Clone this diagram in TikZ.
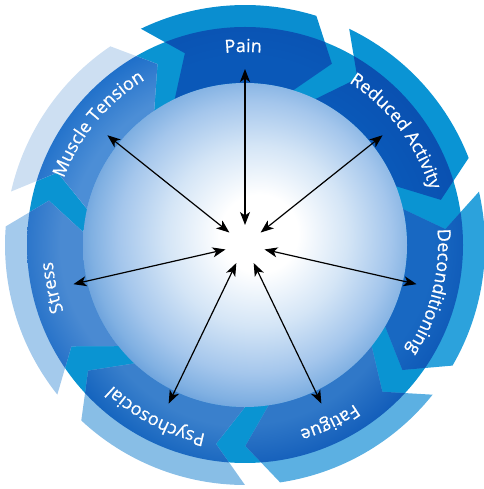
\documentclass[tikz,border=0pt]{standalone}
\usepackage{fontspec}
\newfontfamily\labfam{Open Sans}[FakeBold=0.6]
\usetikzlibrary{decorations.text,arrows.meta}
\definecolor{basecol}{HTML}{0A94D2}
\definecolor{flapPain}{HTML}{0A8ED0}
\definecolor{flapRA}{HTML}{0A94D4}
\definecolor{flapDec}{HTML}{2CA2DC}
\definecolor{flapFat}{HTML}{5CB0E2}
\definecolor{flapPsy}{HTML}{88BEE6}
\definecolor{flapStr}{HTML}{A4CAEC}
\definecolor{flapMT}{HTML}{CDDFF2}
\definecolor{inPain}{HTML}{0A58B8}\definecolor{outPain}{HTML}{0A50B0}
\definecolor{inRA}{HTML}{0A58B8}\definecolor{outRA}{HTML}{0A50B0}
\definecolor{inDec}{HTML}{1868C2}\definecolor{outDec}{HTML}{0A52B2}
\definecolor{inFat}{HTML}{3078C8}\definecolor{outFat}{HTML}{0A56B6}
\definecolor{inPsy}{HTML}{3A80CC}\definecolor{outPsy}{HTML}{0A5CBA}
\definecolor{inStr}{HTML}{4A8AD2}\definecolor{outStr}{HTML}{1566C4}
\definecolor{inMT}{HTML}{4C8ED6}\definecolor{outMT}{HTML}{1A6CC8}
\definecolor{dA}{HTML}{D4E5F6}
\definecolor{dB}{HTML}{A4C6EC}
\definecolor{dC}{HTML}{80B0E2}
\definecolor{dD}{HTML}{5E98D8}
\colorlet{ringin}{inPain}\colorlet{ringout}{outPain}
\pgfdeclareradialshading[ringin,ringout]{ringshade}{\pgfpoint{0bp}{0bp}}{color(0bp)=(ringin); color(18.6bp)=(ringin); color(25bp)=(ringout); color(50bp)=(ringout)}
\pgfdeclareradialshading{innerdisc}{\pgfpoint{2.5bp}{2bp}}{color(0bp)=(white); color(6bp)=(white); color(14bp)=(dA); color(21bp)=(dB); color(25bp)=(dC); color(28bp)=(dD); color(50bp)=(dD)}
\newcommand\labfont{\labfam\fontsize{18}{22}\selectfont}
\newcommand\arrowpath[1]{(#1+25.7:240pt) arc[start angle=#1+25.7, end angle=#1-17.3, radius=240pt] -- (#1-25.6:201pt) -- (#1-17.3:162pt) arc[start angle=#1-17.3, end angle=#1+25.7, radius=162pt] -- (#1+17.4:201pt) -- cycle}
\newcommand\ringlabel[2]{\path[decorate,decoration={text along path,text align=center,text color=white,text={|\labfont|#2}}] (#1+45:193pt) arc[start angle=#1+45,end angle=#1-45,radius=193pt];}
\tikzset{dblarrow/.style={line width=1.2pt, {Stealth[length=13pt,width=10pt,inset=3.5pt]}-{Stealth[length=13pt,width=10pt,inset=3.5pt]}}}
\begin{document}
\begin{tikzpicture}[x=1pt,y=1pt]
\useasboundingbox (0,0) rectangle (483,489);
\begin{scope}[shift={(245,244)}]
\coordinate (C) at (0,0);
\fill[basecol] (C) circle (218pt);
\foreach \c/\fc in {90/flapPain,38.57/flapRA,-12.86/flapDec,-64.29/flapFat,-115.71/flapPsy,-167.14/flapStr,141.43/flapMT}{
  \fill[\fc] \arrowpath{\c};
}
\begin{scope}
\clip (C) circle (218pt);
\foreach \c/\nm in {90/Pain,38.57/RA,-12.86/Dec,-64.29/Fat,-115.71/Psy,-167.14/Str,141.43/MT}{
  \colorlet{ringin}{in\nm}\colorlet{ringout}{out\nm}
  \path[path picture={\shade[shading=ringshade] (C) circle (218pt);}] \arrowpath{\c};
}
\end{scope}
\shade[shading=innerdisc] (C) circle (162pt);
\ringlabel{90.5}{Pain}
\ringlabel{37}{Reduced Activity}
\ringlabel{-14.2}{Deconditioning}
\ringlabel{-64.5}{Fatigue}
\ringlabel{-117.5}{Psychosocial}
\ringlabel{-167.5}{Stress}
\ringlabel{140.5}{Muscle Tension}
\foreach \c [count=\i] in {90,38.57,-12.86,-64.29,-115.71,-167.14,141.43}{
  \coordinate (in\i) at (\c:20pt);
  \coordinate (out\i) at (\c:176pt);
  \draw[dblarrow] (in\i) -- (out\i);
}
\end{scope}
\end{tikzpicture}
\end{document}
